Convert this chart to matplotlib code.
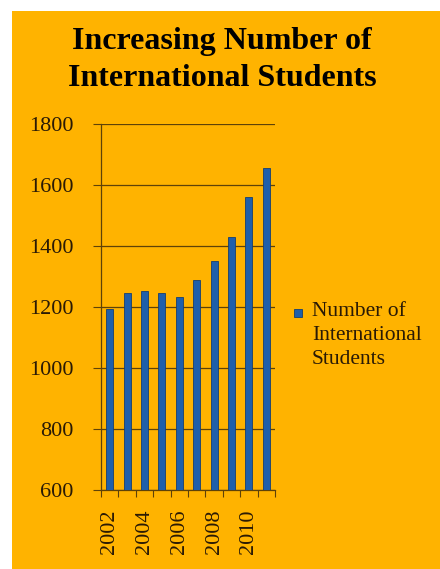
import matplotlib.pyplot as plt
from matplotlib.patches import Rectangle
import numpy as np

# student counts per year
years = [2002, 2003, 2004, 2005, 2006, 2007, 2008, 2009, 2010, 2011]
students = [1195, 1245, 1252, 1245, 1234, 1289, 1352, 1429, 1562, 1657]
year_labels = ['2002', '2004', '2006', '2008', '2010']
y_ticks = [600, 800, 1000, 1200, 1400, 1600, 1800]

orange = '#FFB300'
blue = '#1F5FAA'
ink = '#2a1a05'
serif = ['Liberation Serif', 'DejaVu Serif']

fig = plt.figure(figsize=(4.4, 5.69), dpi=100)
fig.patch.set_facecolor('white')
fig.patches.append(Rectangle((12/440, 0), 1, 1 - 11/569, transform=fig.transFigure,
                             facecolor=orange, edgecolor='none', zorder=-10))

ax = fig.add_axes([101/440, 79/569, 174/440, 366/569])
ax.set_facecolor('none')

x = np.arange(len(years))
ax.bar(x, students, width=0.4, color=blue, edgecolor='#163f70', linewidth=0.6, zorder=3)

ax.set_xlim(-0.5, len(years) - 0.5)
ax.set_ylim(600, 1800)
ax.set_yticks(y_ticks)
ax.set_yticklabels([str(v) for v in y_ticks], family=serif, fontsize=16, color=ink)
ax.yaxis.grid(True, color='#5e4208', linewidth=0.9, zorder=1)
ax.set_axisbelow(True)

# tick marks sit on the category boundaries, labels under every other bar
ax.set_xticks(np.arange(-0.5, len(years), 1.0))
ax.set_xticklabels([])
ax.set_xticks(x[::2], minor=True)
ax.set_xticklabels(year_labels, minor=True, rotation=90, family=serif, fontsize=16, color=ink)
ax.tick_params(axis='x', which='minor', length=0, pad=14)
ax.tick_params(axis='x', which='major', length=5, color='#5e4208', direction='out')
ax.tick_params(axis='y', length=6, color='#5e4208', direction='out', pad=14)

for s in ['top', 'right']:
    ax.spines[s].set_visible(False)
for s in ['left', 'bottom']:
    ax.spines[s].set_color('#5e4208')
    ax.spines[s].set_linewidth(0.9)

fig.text(222/440, 1 - 60/569, 'Increasing Number of\nInternational Students',
         ha='center', va='center', family=serif, fontweight='bold', fontsize=23,
         color='black', linespacing=1.35)

# legend
fig.patches.append(Rectangle((294/440, 1 - 317/569), 8/440, 8/569, transform=fig.transFigure,
                             facecolor=blue, edgecolor='#163f70', linewidth=0.6))
fig.text(312/440, 1 - 302/569, 'Number of\nInternational\nStudents', ha='left', va='top',
         family=serif, fontsize=15.5, color=ink, linespacing=1.35)

fig.savefig('out.png', dpi=100)
